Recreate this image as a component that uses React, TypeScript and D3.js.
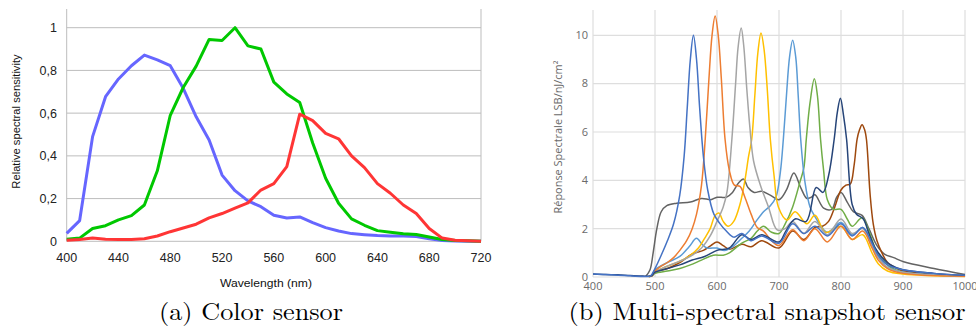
import React from "react";
import * as d3 from "d3";

// ---------- Left chart (a) Color sensor ----------
const wavelengthsA = [400,410,420,430,440,450,460,470,480,490,500,510,520,530,540,550,560,570,580,590,600,610,620,630,640,650,660,670,680,690,700,710,720];
const blueA = [0.037,0.097,0.49,0.677,0.76,0.822,0.872,0.849,0.822,0.716,0.583,0.474,0.31,0.237,0.189,0.162,0.122,0.109,0.114,0.087,0.064,0.048,0.036,0.031,0.027,0.025,0.025,0.022,0.012,0.004,0.001,0,0];
const greenA = [0.01,0.015,0.06,0.073,0.1,0.12,0.17,0.33,0.59,0.72,0.82,0.945,0.94,1.0,0.915,0.9,0.745,0.69,0.65,0.46,0.295,0.178,0.105,0.075,0.05,0.042,0.035,0.032,0.02,0.008,0.004,0.002,0];
const redA = [0.005,0.008,0.015,0.01,0.008,0.008,0.012,0.025,0.045,0.062,0.08,0.11,0.13,0.155,0.18,0.24,0.27,0.35,0.595,0.565,0.505,0.48,0.4,0.345,0.27,0.225,0.17,0.13,0.06,0.015,0.005,0.002,0];
const yTicksA = [0,0.2,0.4,0.6,0.8,1];
const yTickLabelsA = ["0","0,2","0,4","0,6","0,8","1"];
const xTicksA = [400,440,480,520,560,600,640,680,720];

// ---------- Right chart (b) Multi-spectral snapshot sensor ----------
const blueNm = [400,430,460,485,493,500,510,520,530,540,547,552,557,562,567,572,578,585,595,605,615,627,640,655,672,700,722,740,758,778,800,818,835,850,860,875,900,950,1000];
const blueVal = [0.12,0.09,0.05,0.02,0.05,0.35,0.9,1.5,2.2,3.4,5.0,7.0,9.0,10.0,9.0,7.0,5.0,3.6,2.6,2.2,1.9,1.65,1.8,1.5,1.7,1.4,2.2,1.8,2.1,1.7,2.2,1.7,2.05,1.4,0.9,0.5,0.3,0.15,0.07];

const orangeNm = [490,495,500,510,520,530,540,551,560,567,575,581,587,592,597,602,607,613,620,628,637,645,655,665,675,688,700,722,740,758,778,800,818,835,850,860,875,900,1000];
const orangeVal = [0.02,0.06,0.25,0.45,0.6,0.8,1.1,1.5,2.0,2.6,3.8,5.7,8.2,10.0,10.8,10.0,8.2,5.7,4.4,3.8,3.75,3.3,2.6,2.05,1.9,1.5,1.3,1.95,1.5,2.0,1.45,2.1,1.55,1.9,1.2,0.7,0.35,0.15,0.03];

const grayNm = [490,495,500,520,540,557,575,589,600,610,616,624,630,634,639,643,648,653,659,670,683,697,710,722,740,758,778,800,818,835,850,860,875,900,1000];
const grayVal = [0.02,0.06,0.2,0.45,0.65,0.85,1.2,1.7,2.3,2.9,3.5,5.7,8.0,9.5,10.3,9.6,7.8,6.2,4.8,3.8,2.9,1.95,2.0,2.3,1.8,2.3,1.75,2.4,1.8,2.0,1.3,0.8,0.4,0.2,0.03];

const goldNm = [490,495,500,520,540,557,570,580,589,597,603,610,618,627,637,645,651,656,661,666,671,676,681,686,692,699,713,726,745,758,775,800,818,835,850,860,875,900,1000];
const goldVal = [0.02,0.06,0.2,0.45,0.65,0.9,1.2,1.6,2.0,2.55,2.65,2.3,2.1,2.3,3.0,4.0,5.0,5.7,7.5,9.3,10.1,9.4,7.8,5.7,4.2,2.9,2.36,2.7,2.2,2.55,1.85,2.1,1.55,1.75,1.0,0.55,0.25,0.12,0.02];

const lightBlueNm = [490,495,500,520,540,555,567,576,584,600,612,625,640,652,663,675,686,695,702,707,712,717,722,727,731,735,742,750,758,768,778,800,818,835,850,860,875,900,1000];
const lightBlueVal = [0.02,0.06,0.3,0.6,0.85,1.25,1.6,1.35,1.2,1.2,1.1,1.25,1.6,1.9,2.3,2.7,2.95,3.3,4.3,5.7,7.5,9.1,9.8,9.1,7.5,5.7,3.9,2.9,2.5,2.1,1.85,2.25,1.75,2.05,1.3,0.8,0.4,0.2,0.04];

const greenNm = [490,495,500,520,540,557,575,594,610,620,640,655,665,675,688,700,710,722,734,740,744,750,757,762,767,772,778,788,800,810,818,834,845,855,865,880,900,1000];
const greenVal = [0.02,0.05,0.15,0.25,0.35,0.5,0.7,0.9,0.9,1.0,1.4,1.6,1.9,2.1,1.85,1.8,2.2,2.9,3.95,4.5,5.7,7.2,8.2,7.5,5.7,4.4,3.2,2.8,2.8,2.4,2.1,2.45,1.9,1.2,0.8,0.4,0.2,0.04];

const navyNm = [400,420,440,460,480,490,495,500,520,540,560,580,600,620,640,655,672,700,711,726,744,760,771,780,789,794,799,804,809,818,825,836,845,855,865,880,900,950,1000];
const navyVal = [0.12,0.1,0.09,0.06,0.04,0.03,0.06,0.2,0.35,0.5,0.7,0.85,1.1,1.2,1.75,1.55,1.75,1.45,1.9,2.4,2.3,3.7,3.5,4.2,5.7,6.8,7.4,6.7,5.7,3.0,2.6,2.4,1.8,1.2,0.85,0.5,0.3,0.15,0.07];

const brownNm = [490,495,500,520,540,560,578,590,600,610,620,640,655,672,700,722,740,758,770,780,790,800,808,815,821,826,830,834,838,841,847,852,858,866,875,890,900,950,1000];
const brownVal = [0.02,0.05,0.2,0.35,0.6,0.95,1.1,1.3,1.45,1.3,1.15,1.35,1.25,1.5,1.2,1.9,1.55,2.05,2.1,2.3,2.9,3.6,3.8,3.85,4.6,5.7,6.1,6.3,6.1,5.7,3.4,2.2,1.5,1.0,0.6,0.35,0.25,0.1,0.03];

const darkGrayNm = [485,492,497,503,510,519,535,557,575,590,600,615,625,635,643,650,660,672,685,700,712,724,735,745,752,758,772,785,793,800,810,820,834,845,858,870,885,901,950,1000];
const darkGrayVal = [0.02,0.3,1.0,2.0,2.7,2.95,3.05,3.1,3.25,3.2,3.3,3.3,3.5,3.9,4.05,3.7,3.5,3.55,3.4,3.2,3.6,4.3,3.7,3.25,3.3,3.4,2.85,2.8,3.3,3.5,3.1,2.7,2.55,2.0,1.3,0.95,0.8,0.63,0.35,0.1];

const seriesB = [
  { name: "c1", nm: darkGrayNm, val: darkGrayVal, color: "#636363" },
  { name: "c2", nm: brownNm, val: brownVal, color: "#9E480E" },
  { name: "c3", nm: greenNm, val: greenVal, color: "#70AD47" },
  { name: "c4", nm: lightBlueNm, val: lightBlueVal, color: "#5B9BD5" },
  { name: "c5", nm: goldNm, val: goldVal, color: "#FFC000" },
  { name: "c6", nm: grayNm, val: grayVal, color: "#A5A5A5" },
  { name: "c7", nm: orangeNm, val: orangeVal, color: "#ED7D31" },
  { name: "c8", nm: navyNm, val: navyVal, color: "#264478" },
  { name: "c9", nm: blueNm, val: blueVal, color: "#4472C4" },
];
const xTicksB = [400,500,600,700,800,900,1000];
const yTicksB = [0,2,4,6,8,10];

export default function App() {
  const W = 976, H = 327;
  // left scales
  const xA = d3.scaleLinear().domain([400, 720]).range([66.7, 481]);
  const yA = d3.scaleLinear().domain([0, 1]).range([241.3, 27.7]);
  const lineA = d3.line<number>()
    .x((_, i) => xA(wavelengthsA[i]))
    .y((d) => yA(d));
  const seriesA = [
    { vals: blueA, color: "#6666ff" },
    { vals: greenA, color: "#00c800" },
    { vals: redA, color: "#ff3535" },
  ];
  // right scales
  const xB = d3.scaleLinear().domain([400, 1000]).range([593, 965]);
  const yB = d3.scaleLinear().domain([0, 10]).range([277, 35.3]);
  const topB = 10;
  const lineB = (nm: number[], val: number[]) =>
    d3.line<number>()
      .x((_, i) => xB(nm[i]))
      .y((d) => yB(d))
      .curve(d3.curveCatmullRom.alpha(0.5))(val) || "";

  const sansA = "'Liberation Sans', Arial, sans-serif";
  const sansB = "'Open Sans', 'DejaVu Sans', sans-serif";
  const serif = "'Latin Modern Roman', 'Liberation Serif', 'DejaVu Serif', serif";

  return (
    <svg width={W} height={H} viewBox={`0 0 ${W} ${H}`} style={{ position: "absolute", left: 0, top: 0, background: "#fff" }}>
      <defs>
        <filter id="soft" x="-5%" y="-5%" width="110%" height="110%">
          <feGaussianBlur stdDeviation="0.35" />
        </filter>
      </defs>
      {/* ---------- Chart A ---------- */}
      <g>
        {yTicksA.map((t) => (
          <line key={"ga" + t} x1={xA(400)} x2={xA(720)} y1={yA(t)} y2={yA(t)} stroke="#bdbdbd" strokeWidth={1} />
        ))}
        <line x1={xA(400)} x2={xA(400)} y1={9} y2={yA(0)} stroke="#bdbdbd" strokeWidth={1} />
        <line x1={xA(720)} x2={xA(720)} y1={9} y2={yA(0)} stroke="#bdbdbd" strokeWidth={1} />
        {yTicksA.map((t, i) => (
          <text key={"ya" + t} x={57} y={yA(t)} dy="0.35em" textAnchor="end" fontFamily={sansA} fontSize={12.5} fill="#222">
            {yTickLabelsA[i]}
          </text>
        ))}
        {xTicksA.map((t) => (
          <text key={"xa" + t} x={xA(t)} y={257.5} dy="0.35em" textAnchor="middle" fontFamily={sansA} fontSize={12.5} fill="#222">
            {t}
          </text>
        ))}
        {seriesA.map((s, i) => (
          <path key={"la" + i} d={lineA(s.vals) || ""} fill="none" stroke={s.color} strokeWidth={3} strokeLinejoin="round" />
        ))}
        <text transform={`translate(16,121.5) rotate(-90)`} textAnchor="middle" dy="0.35em" fontFamily={sansA} fontSize={11.2} fill="#111">
          Relative spectral sensitivity
        </text>
        <text x={266} y={283} dy="0.35em" textAnchor="middle" fontFamily={sansA} fontSize={11} fill="#111" textLength={92} lengthAdjust="spacingAndGlyphs">
          Wavelength (nm)
        </text>
      </g>

      {/* ---------- Chart B ---------- */}
      <g>
        {yTicksB.map((t) => (
          <line key={"gb" + t} x1={xB(400)} x2={xB(1000)} y1={yB(t)} y2={yB(t)} stroke="#dedede" strokeWidth={1.2} />
        ))}
        {xTicksB.map((t) => (
          <line key={"gvb" + t} x1={xB(t)} x2={xB(t)} y1={topB} y2={yB(0)} stroke="#dedede" strokeWidth={1.2} />
        ))}
        {yTicksB.map((t) => (
          <text key={"yb" + t} x={588} y={yB(t)} dy="0.35em" textAnchor="end" fontFamily={sansB} fontSize={11} fill="#6a6a6a">
            {t}
          </text>
        ))}
        {xTicksB.map((t) => (
          <text key={"xb" + t} x={xB(t)} y={286.5} dy="0.35em" textAnchor="middle" fontFamily={sansB} fontSize={11} fill="#6a6a6a">
            {t}
          </text>
        ))}
        <g filter="url(#soft)">
          {seriesB.map((s) => (
            <path key={s.name} d={lineB(s.nm, s.val)} fill="none" stroke={s.color} strokeWidth={1.5} strokeLinejoin="round" />
          ))}
        </g>
        <text transform={`translate(558,137) rotate(-90)`} textAnchor="middle" dy="0.35em" fontFamily={sansB} fontSize={10.5} fill="#6a6a6a" textLength={153} lengthAdjust="spacingAndGlyphs">
          Réponse Spectrale LSB/nJ/cm²
        </text>
      </g>

      {/* ---------- Captions ---------- */}
      <text x={251} y={320} textAnchor="middle" fontFamily={serif} fontSize={24} fill="#000" textLength={184} lengthAdjust="spacingAndGlyphs">
        (a) Color sensor
      </text>
      <text x={767} y={320} textAnchor="middle" fontFamily={serif} fontSize={24} fill="#000" textLength={397} lengthAdjust="spacingAndGlyphs">
        (b) Multi-spectral snapshot sensor
      </text>
    </svg>
  );
}
